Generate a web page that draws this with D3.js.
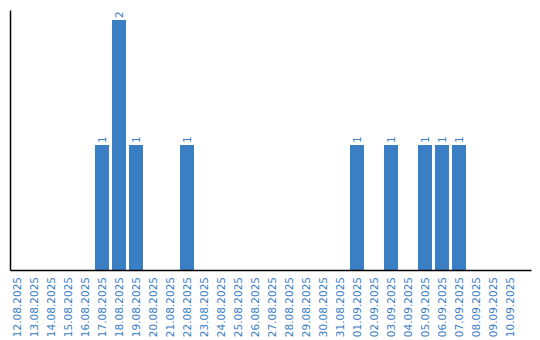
<!DOCTYPE html>
<html>
<head>
    <meta charset="utf-8">
    <script src="https://d3js.org/d3.v7.min.js"></script>
    <style>
        body { margin: 0; background: #fff; }
        .axis path { stroke: #000; stroke-width: 1.5px; }
        .axis text { fill: #3a7dc4; font-family: "DejaVu Sans", Verdana, sans-serif; font-size: 10.5px; }
        .bar { fill: #3a7ec4; }
        .val { fill: #3a7dc4; font-family: "DejaVu Sans", Verdana, sans-serif; font-size: 10.5px; }
    </style>
</head>
<body>
<script>
    let dates = ["12.08.2025", "13.08.2025", "14.08.2025", "15.08.2025", "16.08.2025",
                 "17.08.2025", "18.08.2025", "19.08.2025", "20.08.2025", "21.08.2025",
                 "22.08.2025", "23.08.2025", "24.08.2025", "25.08.2025", "26.08.2025",
                 "27.08.2025", "28.08.2025", "29.08.2025", "30.08.2025", "31.08.2025",
                 "01.09.2025", "02.09.2025", "03.09.2025", "04.09.2025", "05.09.2025",
                 "06.09.2025", "07.09.2025", "08.09.2025", "09.09.2025", "10.09.2025"];
    let counts = [0, 0, 0, 0, 0, 1, 2, 1, 0, 0,
                  1, 0, 0, 0, 0, 0, 0, 0, 0, 0,
                  1, 0, 1, 0, 1, 1, 1, 0, 0, 0];

    let width = 540, height = 340;
    let m_left = 10, m_right = 531, m_top = 10, m_bottom = 270;

    let data = dates.map((d, i) => ({ date: d, count: counts[i] }));

    let svg = d3.select("body").append("svg")
        .attr("width", width)
        .attr("height", height);

    let x_scale = d3.scaleBand()
        .domain(dates)
        .range([m_left, m_right])
        .paddingInner(3 / 17)
        .paddingOuter(0.412)
        .align(0);

    let y_scale = d3.scaleLinear()
        .domain([0, 2.08])
        .range([m_bottom, m_top]);

    svg.selectAll("rect.bar")
        .data(data.filter(d => d.count > 0))
        .join("rect")
        .attr("class", "bar")
        .attr("x", d => x_scale(d.date))
        .attr("y", d => y_scale(d.count))
        .attr("width", x_scale.bandwidth())
        .attr("height", d => m_bottom - y_scale(d.count));

    // value labels above the bars
    svg.selectAll("text.val")
        .data(data.filter(d => d.count > 0))
        .join("text")
        .attr("class", "val")
        .attr("transform", d => "translate(" + (x_scale(d.date) + x_scale.bandwidth() / 2) + "," + (y_scale(d.count) - 2) + ") rotate(-90)")
        .attr("dy", "0.35em")
        .text(d => d.count);

    let x_axis = d3.axisBottom(x_scale).tickSize(0).tickSizeOuter(0);
    let gx = svg.append("g")
        .attr("class", "x axis")
        .attr("transform", "translate(0," + m_bottom + ")")
        .call(x_axis);
    gx.selectAll("text")
        .attr("text-anchor", "end")
        .attr("dy", "0.35em")
        .attr("transform", "translate(0,7) rotate(-90)")
        .attr("x", 0)
        .attr("y", 0);

    let y_axis = d3.axisLeft(y_scale).tickValues([]).tickSizeOuter(0);
    svg.append("g")
        .attr("class", "y axis")
        .attr("transform", "translate(" + m_left + ",0)")
        .call(y_axis);
</script>
</body>
</html>
